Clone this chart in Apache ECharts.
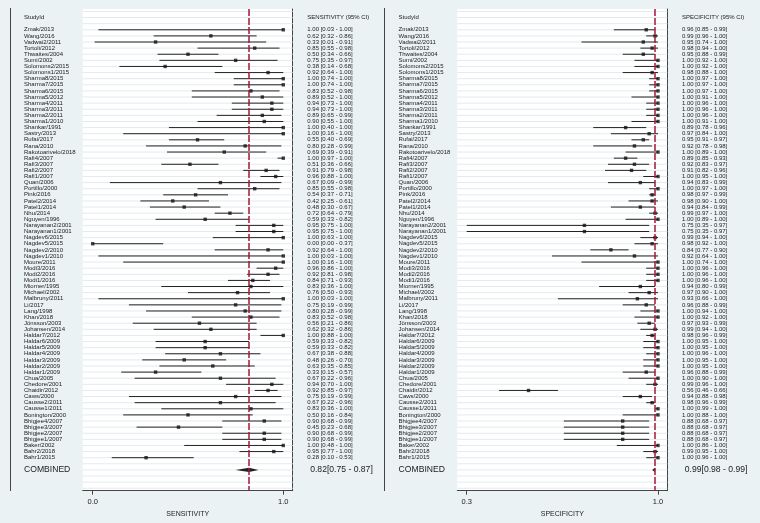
<!DOCTYPE html>
<html>
<head>
<meta charset="utf-8">
<script src="https://cdn.jsdelivr.net/npm/echarts@6/dist/echarts.min.js"></script>
<style>
  html, body { margin: 0; padding: 0; background: #eaf2f3; }
  #main { width: 760px; height: 523px; }
</style>
</head>
<body>
<div id="main"></div>
<script>
var studies = ['Zmak/2013', 'Wang/2016', 'Vadwai2/2011', 'Tortoli/2012', 'Thwaites/2004', 'Sumi/2002',
  'Solomons2/2015', 'Solomons1/2015', 'Sharma8/2015', 'Sharma7/2015', 'Sharma6/2015', 'Sharma5/2012',
  'Sharma4/2011', 'Sharma3/2011', 'Sharma2/2011', 'Sharma1/2010', 'Shankar/1991', 'Sastry/2013',
  'Rufai/2017', 'Rana/2010', 'Rakotoarivelo/2018', 'Rafi4/2007', 'Rafi3/2007', 'Rafi2/2007', 'Rafi1/2007',
  'Quan/2006', 'Portillo/2000', 'Pink/2016', 'Patel2/2014', 'Patel1/2014', 'Nhu/2014', 'Nguyen/1996',
  'Narayanan2/2001', 'Narayanan1/2001', 'Nagdev6/2015', 'Nagdev5/2015', 'Nagdev2/2010', 'Nagdev1/2010',
  'Moure/2011', 'Modi3/2016', 'Modi2/2016', 'Modi1/2016', 'Miorner/1995', 'Michael/2002', 'Malbruny/2011',
  'Li/2017', 'Lang/1998', 'Khan/2018', 'Jönsson/2003', 'Johansen/2014', 'Haldar7/2012', 'Haldar6/2009',
  'Haldar5/2009', 'Haldar4/2009', 'Haldar3/2009', 'Haldar2/2009', 'Haldar1/2009', 'Chua/2005',
  'Chedore/2001', 'Chaidir/2012', 'Caws/2000', 'Causse2/2011', 'Causse1/2011', 'Bonington/2000',
  'Bhigjee4/2007', 'Bhigjee3/2007', 'Bhigjee2/2007', 'Bhigjee1/2007', 'Baker/2002', 'Bahr2/2018', 'Bahr1/2015'];

var sens = [1.00, 0.62, 0.33, 0.85, 0.50, 0.75, 0.38, 0.92, 1.00, 1.00,
  0.83, 0.89, 0.94, 0.94, 0.89, 0.90, 1.00, 1.00, 0.55, 0.80,
  0.69, 1.00, 0.51, 0.91, 0.96, 0.67, 0.85, 0.54, 0.42, 0.48,
  0.72, 0.59, 0.95, 0.95, 1.00, 0.00, 0.92, 1.00, 1.00, 0.96,
  0.92, 0.84, 0.83, 0.76, 1.00, 0.75, 0.80, 0.83, 0.56, 0.62,
  1.00, 0.59, 0.59, 0.67, 0.48, 0.63, 0.33, 0.67, 0.94, 0.92,
  0.75, 0.67, 0.83, 0.50, 0.90, 0.45, 0.90, 0.90, 1.00, 0.95, 0.28];
var sensLo = [0.03, 0.32, 0.01, 0.55, 0.34, 0.35, 0.14, 0.64, 0.74, 0.74,
  0.52, 0.52, 0.73, 0.73, 0.65, 0.55, 0.40, 0.16, 0.40, 0.28,
  0.39, 0.97, 0.36, 0.79, 0.88, 0.09, 0.55, 0.37, 0.25, 0.30,
  0.64, 0.33, 0.75, 0.75, 0.63, 0.00, 0.64, 0.03, 0.16, 0.86,
  0.81, 0.71, 0.36, 0.50, 0.03, 0.19, 0.28, 0.52, 0.21, 0.32,
  0.88, 0.33, 0.33, 0.38, 0.26, 0.35, 0.15, 0.22, 0.70, 0.85,
  0.19, 0.22, 0.36, 0.16, 0.68, 0.23, 0.68, 0.68, 0.48, 0.77, 0.10];
var sensHi = [1.00, 0.86, 0.91, 0.98, 0.66, 0.97, 0.68, 1.00, 1.00, 1.00,
  0.98, 1.00, 1.00, 1.00, 0.99, 1.00, 1.00, 1.00, 0.69, 0.99,
  0.91, 1.00, 0.66, 0.98, 1.00, 0.99, 0.98, 0.71, 0.61, 0.67,
  0.79, 0.82, 1.00, 1.00, 1.00, 0.37, 1.00, 1.00, 1.00, 1.00,
  0.98, 0.93, 1.00, 0.93, 1.00, 0.99, 0.99, 0.98, 0.86, 0.86,
  1.00, 0.82, 0.82, 0.88, 0.70, 0.85, 0.57, 0.96, 1.00, 0.97,
  0.99, 0.96, 1.00, 0.84, 0.99, 0.68, 0.99, 0.99, 1.00, 1.00, 0.53];

var spec = [0.96, 0.99, 0.95, 0.98, 0.95, 1.00, 1.00, 0.98, 1.00, 1.00,
  1.00, 1.00, 1.00, 1.00, 1.00, 1.00, 0.89, 0.97, 0.95, 0.92,
  1.00, 0.89, 0.92, 0.91, 1.00, 0.94, 1.00, 0.98, 0.98, 0.94,
  0.99, 1.00, 0.75, 0.75, 0.99, 0.98, 0.84, 0.92, 1.00, 1.00,
  1.00, 1.00, 0.94, 0.97, 0.93, 0.96, 1.00, 1.00, 0.97, 0.99,
  0.98, 1.00, 1.00, 1.00, 1.00, 1.00, 0.96, 1.00, 0.99, 0.56,
  0.94, 0.98, 1.00, 1.00, 0.88, 0.88, 0.88, 0.88, 1.00, 0.99, 1.00];
var specLo = [0.85, 0.96, 0.74, 0.94, 0.88, 0.92, 0.92, 0.88, 0.97, 0.97,
  0.97, 0.91, 0.96, 0.96, 0.96, 0.91, 0.78, 0.84, 0.91, 0.78,
  0.89, 0.85, 0.83, 0.82, 0.95, 0.83, 0.97, 0.97, 0.90, 0.84,
  0.97, 0.89, 0.35, 0.35, 0.94, 0.92, 0.77, 0.64, 0.74, 0.96,
  0.96, 0.96, 0.80, 0.90, 0.66, 0.88, 0.94, 0.92, 0.93, 0.94,
  0.96, 0.95, 0.95, 0.96, 0.95, 0.95, 0.88, 0.90, 0.96, 0.46,
  0.88, 0.96, 0.99, 0.88, 0.68, 0.68, 0.68, 0.68, 0.86, 0.95, 0.96];
var specHi = [0.99, 1.00, 1.00, 1.00, 0.99, 1.00, 1.00, 1.00, 1.00, 1.00,
  1.00, 1.00, 1.00, 1.00, 1.00, 1.00, 0.96, 1.00, 0.97, 0.98,
  1.00, 0.93, 0.97, 0.96, 1.00, 0.99, 1.00, 0.99, 1.00, 0.99,
  1.00, 1.00, 0.97, 0.97, 1.00, 1.00, 0.90, 1.00, 1.00, 1.00,
  1.00, 1.00, 0.99, 1.00, 1.00, 0.99, 1.00, 1.00, 0.99, 1.00,
  0.99, 1.00, 1.00, 1.00, 1.00, 1.00, 0.99, 1.00, 1.00, 0.66,
  0.98, 0.99, 1.00, 1.00, 0.97, 0.97, 0.97, 0.97, 1.00, 1.00, 1.00];

// pooled estimate, lower, upper
var pooledSens = [0.82, 0.75, 0.87];
var pooledSpec = [0.99, 0.98, 0.99];

// axis ends: lowest lower CI and 1 (stata prints 0.35 as 0.3)
var sensTicks = [0, 1];
var specTicks = [0.35, 1];

var FONT = '"Liberation Sans", Arial, sans-serif';
var INK = '#222';
var ROW_COMBINED = studies.length + 2;

function fmt(v) { return v.toFixed(2); }

var gridRows = [];
for (var r = -2; r <= ROW_COMBINED + 3; r++) gridRows.push(r);

function buildPanel(k, est, lo, hi, pooled, label, ticks) {
  var marks = studies.map(function (s, i) { return [est[i], i + 1, lo[i], hi[i]]; });

  var textRows = [{ row: -1, name: 'StudyId', ci: label + ' (95% CI)', big: false }];
  studies.forEach(function (s, i) {
    textRows.push({ row: i + 1, name: s, ci: fmt(est[i]) + ' [' + fmt(lo[i]) + ' - ' + fmt(hi[i]) + ']', big: false });
  });
  textRows.push({ row: ROW_COMBINED, name: 'COMBINED',
    ci: fmt(pooled[0]) + '[' + fmt(pooled[1]) + ' - ' + fmt(pooled[2]) + ']', big: true });

  return [
    {
      // light row lines
      type: 'custom', xAxisIndex: k, yAxisIndex: k, z: 1, silent: true,
      data: gridRows.map(function (r) { return [ticks[1], r]; }),
      encode: { x: 0, y: 1 },
      renderItem: function (params, api) {
        var y = api.coord([ticks[1], api.value(1)])[1];
        var cs = params.coordSys;
        return { type: 'line', shape: { x1: cs.x, y1: y, x2: cs.x + cs.width, y2: y },
          style: { stroke: '#e3ebee', lineWidth: 1 } };
      }
    },
    {
      // confidence intervals
      type: 'custom', xAxisIndex: k, yAxisIndex: k, z: 2, silent: true,
      data: marks,
      encode: { x: [0, 2, 3], y: 1 },
      renderItem: function (params, api) {
        var a = api.coord([api.value(2), api.value(1)]);
        var b = api.coord([api.value(3), api.value(1)]);
        return { type: 'line', shape: { x1: a[0], y1: a[1], x2: b[0], y2: b[1] },
          style: { stroke: INK, lineWidth: 1 } };
      }
    },
    {
      type: 'scatter', xAxisIndex: k, yAxisIndex: k, z: 3, silent: true,
      symbol: 'rect', symbolSize: 3.4,
      itemStyle: { color: '#111' },
      data: marks.map(function (m) { return [m[0], m[1]]; }),
      markLine: {
        silent: true, symbol: ['none', 'none'], label: { show: false },
        lineStyle: { color: '#a8163a', width: 1.5, type: [7, 2] },
        data: [{ xAxis: pooled[0] }]
      }
    },
    {
      // pooled diamond
      type: 'custom', xAxisIndex: k, yAxisIndex: k, z: 4, silent: true,
      data: [[pooled[0], ROW_COMBINED, pooled[1], pooled[2]]],
      encode: { x: [0, 2, 3], y: 1 },
      renderItem: function (params, api) {
        var c = api.coord([api.value(0), api.value(1)]);
        var l = api.coord([api.value(2), api.value(1)]);
        var h = api.coord([api.value(3), api.value(1)]);
        return { type: 'polygon',
          shape: { points: [[l[0], c[1]], [c[0], c[1] - 2.2], [h[0], c[1]], [c[0], c[1] + 2.2]] },
          style: { fill: INK } };
      }
    },
    {
      // study names and CI text
      type: 'custom', xAxisIndex: k, yAxisIndex: k, z: 5, silent: true,
      data: textRows.map(function (t) { return [ticks[1], t.row]; }),
      encode: { x: 0, y: 1 },
      renderItem: function (params, api) {
        var t = textRows[params.dataIndex];
        var y = api.coord([ticks[1], api.value(1)])[1];
        var cs = params.coordSys;
        var size = t.big ? 8.6 : 6;
        return { type: 'group', children: [
          { type: 'text', x: cs.x - 58.7, y: y,
            style: { text: t.name, fontSize: size, fontFamily: FONT, fill: INK, align: 'left', verticalAlign: 'middle' } },
          { type: 'text', x: cs.x + cs.width + (t.big ? 17.5 : 14.6), y: y,
            style: { text: t.ci, fontSize: size, fontFamily: FONT, fill: INK, align: 'left', verticalAlign: 'middle' } }
        ] };
      }
    }
  ];
}

function xAxisFor(k, min, max, ticks, name) {
  return {
    gridIndex: k, type: 'value', min: min, max: max, position: 'bottom',
    name: name, nameLocation: 'middle', nameGap: 17,
    nameTextStyle: { fontSize: 7, fontFamily: FONT, color: INK },
    axisLine: { onZero: false, lineStyle: { color: '#444', width: 1 } },
    axisTick: { customValues: ticks, length: 4, lineStyle: { color: '#444' } },
    axisLabel: { customValues: ticks, margin: 7, fontSize: 7.5, fontFamily: FONT, color: INK,
      formatter: function (v) { return (Math.floor(v * 10 + 1e-9) / 10).toFixed(1); } },
    splitLine: { show: false }
  };
}

function yAxisFor(k) {
  return {
    gridIndex: k, type: 'value', inverse: true, min: -2.4, max: ROW_COMBINED + 3.4, position: 'right',
    axisLine: { show: true, onZero: false, lineStyle: { color: '#444', width: 1 } },
    axisTick: { show: false }, axisLabel: { show: false }, splitLine: { show: false }
  };
}

var chart = echarts.init(document.getElementById('main'));
var option = {
  animation: false,
  backgroundColor: '#eaf2f3',
  grid: [
    { left: 82.7, top: 9, width: 210, height: 481.7, show: true, backgroundColor: '#fff', borderWidth: 0 },
    { left: 457.3, top: 9, width: 210, height: 481.7, show: true, backgroundColor: '#fff', borderWidth: 0 }
  ],
  xAxis: [
    xAxisFor(0, -0.0525, 1.0493, sensTicks, 'SENSITIVITY'),
    xAxisFor(1, 0.318, 1.0316, specTicks, 'SPECIFICITY')
  ],
  yAxis: [yAxisFor(0), yAxisFor(1)],
  graphic: [
    { type: 'line', shape: { x1: 10.5, y1: 8, x2: 10.5, y2: 491 }, style: { stroke: '#444', lineWidth: 1 } },
    { type: 'line', shape: { x1: 384.5, y1: 8, x2: 384.5, y2: 491 }, style: { stroke: '#444', lineWidth: 1 } }
  ],
  series: buildPanel(0, sens, sensLo, sensHi, pooledSens, 'SENSITIVITY', sensTicks)
    .concat(buildPanel(1, spec, specLo, specHi, pooledSpec, 'SPECIFICITY', specTicks))
};
chart.setOption(option);
</script>
</body>
</html>
